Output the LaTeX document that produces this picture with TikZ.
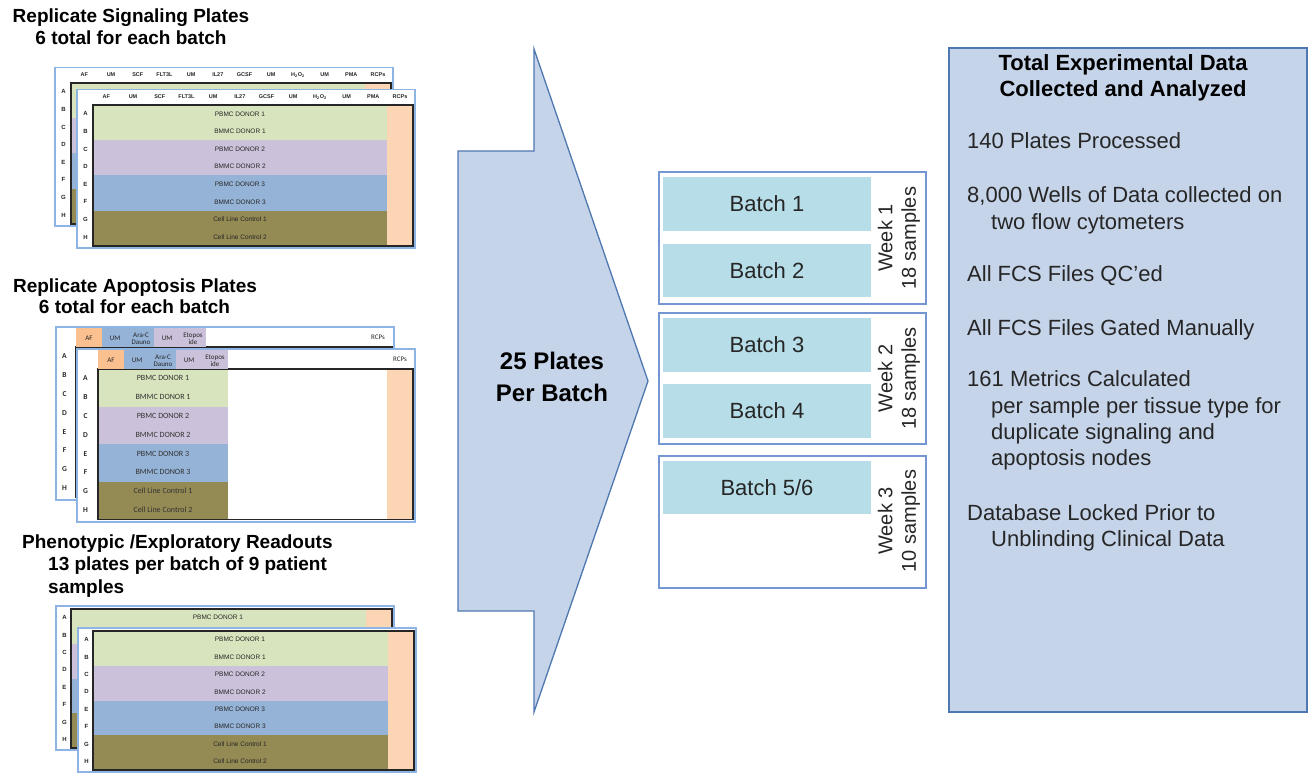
\documentclass[tikz,border=0pt]{standalone}
\usepackage{fontspec}
\setmainfont{Liberation Sans}
\newfontfamily\calibri{Carlito}
\definecolor{pgreen}{HTML}{D7E4BD}
\definecolor{ppurple}{HTML}{CCC1DA}
\definecolor{pblue}{HTML}{95B3D7}
\definecolor{polive}{HTML}{948A54}
\definecolor{ppeach}{HTML}{FCD5B5}
\definecolor{porange}{HTML}{FAC090}
\definecolor{frameblue}{HTML}{8DB4E2}
\definecolor{arrowfill}{HTML}{C5D4E9}
\definecolor{arrowline}{HTML}{4F78B0}
\definecolor{batchfill}{HTML}{B7DEE8}
\definecolor{weekline}{HTML}{7496D2}
\definecolor{txtgray}{HTML}{262626}
\tikzset{
  plateframe/.style={draw=frameblue, line width=1.7pt, fill=white},
  wellbox/.style={draw=black!85, line width=1.7pt},
  hdrlab/.style={font=\fontsize{5.5}{6}\selectfont\bfseries, inner sep=0pt, text=black!85},
  apohdr/.style={font=\calibri\fontsize{7}{6.8}\selectfont, inner sep=0pt, align=center, text=black!85},
  rowlet/.style={font=\fontsize{6}{6}\selectfont\bfseries, inner sep=0pt, text=black!85},
  rowtxt/.style={font=\fontsize{6.5}{7}\selectfont, inner sep=0pt, text=black!85},
  titlefont/.style={font=\fontsize{19}{21}\selectfont\bfseries, inner sep=0pt},
  weekbox/.style={draw=weekline, line width=1.4pt, fill=white},
  batchbox/.style={fill=batchfill},
  batchlab/.style={font=\fontsize{22}{24}\selectfont, text=txtgray, inner sep=0pt},
  weeklab/.style={font=\fontsize{20}{23.5}\selectfont, text=txtgray, rotate=90, align=center, inner sep=0pt},
  bodytxt/.style={font=\fontsize{22}{26}\selectfont, text=txtgray, inner sep=0pt, anchor=base west},
}
% number of row texts that are drawn (rows hidden behind a front plate are left out)
\def\nrowtxt{8}
% #1 prefix, #2 frame left, #3 frame top, #4 frame bottom, #5 inner left, #6 inner top, #7 row height, #8 colour band right, #9 label centre x
\newcommand\platebody[9]{%
  \draw[plateframe] (#2,#3) rectangle ({#2+338},#4);
  \foreach \i/\c in {0/pgreen,1/pgreen,2/ppurple,3/ppurple,4/pblue,5/pblue,6/polive,7/polive}
    \fill[\c] (#5,{#6+\i*#7}) rectangle (#8,{#6+(\i+1)*#7});
  \fill[ppeach] ({#2+310},#6) rectangle ({#2+336},{#6+8*#7});
  \foreach \i/\t in {0/PBMC DONOR 1,1/BMMC DONOR 1,2/PBMC DONOR 2,3/BMMC DONOR 2,4/PBMC DONOR 3,5/BMMC DONOR 3,6/Cell Line Control 1,7/Cell Line Control 2}{
    \ifnum\i<\nrowtxt\relax
      \node[rowtxt] (#1-t\i) at (#9,{#6+(\i+0.5)*#7}) {\t};
    \fi
  }
  \foreach \i/\L in {0/A,1/B,2/C,3/D,4/E,5/F,6/G,7/H}
    \node[rowlet] (#1-L\i) at ({#2+8.5},{#6+(\i+0.5)*#7}) {\L};
  \draw[wellbox] (#5,#6) rectangle ({#2+336},{#6+8*#7});
}
% #1 prefix, #2 inner left, #3 label y
\newcommand\sighead[3]{%
  \foreach \j/\t in {0/AF,1/UM,2/SCF,3/FLT3L,4/UM,5/IL27,6/GCSF,7/UM,8/{H\textsubscript{2}O\textsubscript{2}},9/UM,10/PMA}
    \node[hdrlab] (#1-h\j) at ({#2+13.35+\j*26.7},#3) {\t};
  \node[hdrlab] (#1-hR) at ({#2+307},#3) {RCPs};
}
% #1 prefix, #2 inner left, #3 top, #4 bottom
\newcommand\apohead[4]{%
  \foreach \j/\c/\t in {0/porange/AF,1/pblue/UM,2/pblue/{Ara-C\\Dauno},3/ppurple/UM,4/ppurple/{Etopos\\ide}} {
    \fill[\c] ({#2+\j*26},#3) rectangle ({#2+(\j+1)*26},#4);
    \node[apohdr] (#1-h\j) at ({#2+(\j+0.5)*26},{(#3+#4)/2+1}) {\t};
  }
  \node[apohdr] (#1-hR) at ({#2+302},{(#3+#4)/2}) {RCPs};
}
\begin{document}
\begin{tikzpicture}[x=1pt,y=-1pt]
\useasboundingbox (0,0) rectangle (1309,772);
\fill[white] (0,0) rectangle (1309,772);

% ---------- Titles (left) ----------
\node[titlefont, anchor=base] (t1a) at (131,22.5) {Replicate Signaling Plates};
\node[titlefont, anchor=base] (t1b) at (131,44.5) {6 total for each batch};
\node[titlefont, anchor=base] (t2a) at (135,292) {Replicate Apoptosis Plates};
\node[titlefont, anchor=base] (t2b) at (134.5,313.5) {6 total for each batch};
\node[titlefont, anchor=base west] (t3a) at (22,548) {Phenotypic /Exploratory Readouts};
\node[titlefont, anchor=base west] (t3b) at (48,570) {13 plates per batch of 9 patient};
\node[titlefont, anchor=base west] (t3c) at (48,593) {samples};

% ---------- Signaling plates ----------
\def\nrowtxt{0}
\platebody{sB}{55}{67.5}{226}{71}{83}{17.6}{365}{218}
\sighead{sB}{71}{75}
\def\nrowtxt{8}
\platebody{sF}{77}{89.5}{248}{93}{105}{17.6}{387}{240}
\sighead{sF}{93}{97}

% ---------- Apoptosis plates ----------
\begin{scope}[rowtxt/.style={font=\calibri\fontsize{8}{8}\selectfont, inner sep=0pt, text=black!80},
              rowlet/.style={font=\calibri\fontsize{7.5}{7.5}\selectfont\bfseries, inner sep=0pt, text=black!85}]
\def\nrowtxt{0}
\platebody{aB}{56}{327}{500}{76}{347}{18.8}{206}{141}
\apohead{aB}{76}{328}{347}
\def\nrowtxt{8}
\platebody{aF}{77}{349}{522}{98}{369}{18.8}{228}{163}
\apohead{aF}{98}{350}{369}
\end{scope}

% ---------- Phenotypic plates ----------
\def\nrowtxt{1}
\platebody{pB}{56}{606}{750}{71}{609}{17.4}{366}{218}
\def\nrowtxt{8}
\platebody{pF}{78}{628}{772}{93}{631}{17.4}{388}{240}

% ---------- Central arrow ----------
\draw[draw=arrowline, fill=arrowfill, line width=1.3pt, line join=miter]
  (534,49) -- (648,381) -- (534,712) -- (534,611) -- (458,611) -- (458,151) -- (534,151) -- cycle;
\node[font=\fontsize{24}{32}\selectfont\bfseries, inner sep=0pt, anchor=base] (pl1) at (552,369) {25 Plates};
\node[font=\fontsize{24}{32}\selectfont\bfseries, inner sep=0pt, anchor=base] (pl2) at (552,401) {Per Batch};

% ---------- Week boxes ----------
\draw[weekbox] (659,172) rectangle (926,304);
\draw[weekbox] (659,313) rectangle (926,444);
\draw[weekbox] (659,456) rectangle (926,588);
\fill[batchbox] (663,177) rectangle (871,231);
\fill[batchbox] (663,244) rectangle (871,297);
\fill[batchbox] (663,318) rectangle (871,372);
\fill[batchbox] (663,384) rectangle (871,438);
\fill[batchbox] (663,461) rectangle (871,514);
\node[batchlab] (b1) at (767,204) {Batch 1};
\node[batchlab] (b2) at (767,270.5) {Batch 2};
\node[batchlab] (b3) at (767,345) {Batch 3};
\node[batchlab] (b4) at (767,411) {Batch 4};
\node[batchlab] (b5) at (767,487.5) {Batch 5/6};
\node[weeklab] (w1) at (899,238) {Week 1\\18 samples};
\node[weeklab] (w2) at (899,378.5) {Week 2\\18 samples};
\node[weeklab] (w3) at (899,521) {Week 3\\10 samples};

% ---------- Right summary box ----------
\draw[draw=arrowline, fill=arrowfill, line width=1.4pt] (949,48) rectangle (1307,712);
\node[font=\fontsize{22}{26}\selectfont\bfseries, inner sep=0pt, anchor=base] (r0a) at (1123,70) {Total Experimental Data};
\node[font=\fontsize{22}{26}\selectfont\bfseries, inner sep=0pt, anchor=base] (r0b) at (1123,96) {Collected and Analyzed};
\node[bodytxt] (r1) at (967,148) {140 Plates Processed};
\node[bodytxt] (r2a) at (967,202.5) {8,000 Wells of Data collected on};
\node[bodytxt] (r2b) at (991,229.5) {two flow cytometers};
\node[bodytxt] (r3) at (967,281) {All FCS Files QC'ed};
\node[bodytxt] (r4) at (967,335) {All FCS Files Gated Manually};
\node[bodytxt] (r5a) at (967,386) {161 Metrics Calculated};
\node[bodytxt] (r5b) at (991,413.5) {per sample per tissue type for};
\node[bodytxt] (r5c) at (991,439.5) {duplicate signaling and};
\node[bodytxt] (r5d) at (991,465.5) {apoptosis nodes};
\node[bodytxt] (r6a) at (967,520) {Database Locked Prior to};
\node[bodytxt] (r6b) at (991,546) {Unblinding Clinical Data};
\end{tikzpicture}
\end{document}
